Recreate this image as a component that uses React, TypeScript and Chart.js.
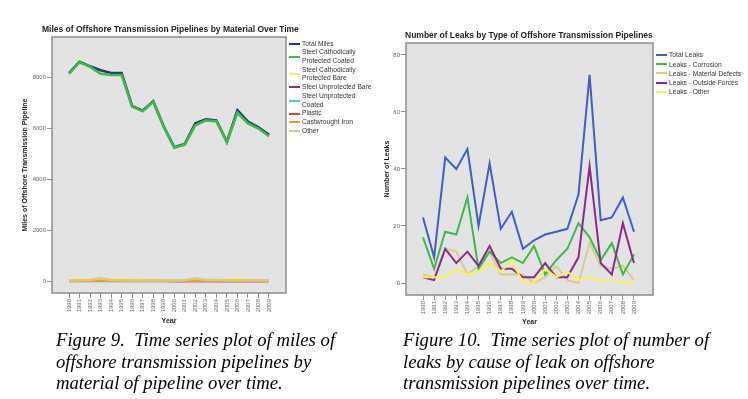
import React, { useEffect, useRef } from "react";
import { Chart, registerables } from "chart.js";

Chart.register(...registerables);

// ---------- Data ----------
const years = [1990, 1991, 1992, 1993, 1994, 1995, 1996, 1997, 1998, 1999, 2000, 2001, 2002, 2003, 2004, 2005, 2006, 2007, 2008, 2009];

// Figure 9 – miles by material
const totalMiles = [8150, 8600, 8420, 8270, 8160, 8160, 6860, 6680, 7050, 6060, 5250, 5370, 6190, 6340, 6300, 5460, 6700, 6250, 6030, 5730];
const steelCPCoated = [8130, 8580, 8400, 8130, 8080, 8080, 6840, 6660, 7030, 6040, 5230, 5350, 6110, 6300, 6270, 5440, 6600, 6180, 5980, 5680];
const steelCPBare = [40, 50, 60, 70, 80, 70, 60, 50, 40, 40, 30, 30, 40, 50, 50, 60, 80, 60, 50, 40];
const steelUnprotBare = [10, 12, 10, 10, 8, 10, 9, 10, 10, 8, 6, 5, 6, 5, 5, 6, 5, 5, 4, 5];
const steelUnprotCoated = [5, 6, 5, 5, 4, 5, 5, 4, 5, 5, 4, 4, 5, 4, 4, 5, 4, 4, 4, 4];
const plastic = [30, 30, 20, 20, 12, 10, 10, 10, 12, 10, 10, 10, 12, 10, 10, 10, 10, 10, 10, 10];
const castIron = [0, 0, 0, 20, 0, 0, 0, 0, 10, 0, 0, 0, 20, 0, 0, 0, 0, 0, 0, 0];
const otherMiles = [20, 30, 40, 110, 40, 30, 20, 20, 30, 20, 20, 30, 110, 40, 40, 30, 30, 30, 30, 30];
const milesTicks = [0, 2000, 4000, 6000, 8000];

// Figure 10 – leaks by type
const totalLeaks = [23, 9, 44, 40, 47, 20, 42, 19, 25, 12, 15, 17, 18, 19, 31, 73, 22, 23, 30, 18];
const leaksCorrosion = [16, 5, 18, 17, 30, 5, 11, 7, 9, 7, 13, 3, 8, 12, 21, 16, 8, 14, 3, 10];
const leaksMaterial = [3, 2, 12, 11, 3, 6, 11, 3, 3, 3, 0, 2, 6, 1, 0, 14, 6, 5, 6, 1];
const leaksOutside = [2, 1, 12, 7, 11, 6, 13, 5, 5, 2, 2, 7, 2, 2, 9, 41, 7, 3, 21, 7];
const leaksOther = [2, 2, 2, 5, 3, 4, 7, 4, 8, 0, 0, 5, 2, 4, 1, 2, 1, 1, 0, 0];
const leaksTicks = [0, 20, 40, 60, 80];

const fig9Title = "Miles of Offshore Transmission Pipelines by Material Over Time";
const fig10Title = "Number of Leaks by Type of Offshore Transmission Pipelines";

type Series = { label: string[]; data: number[]; color: string; order: number };

const milesSeries: Series[] = [
  { label: ["Total Miles"], data: totalMiles, color: "#1f3a7a", order: 2 },
  { label: ["Steel Cathodically", "Protected Coated"], data: steelCPCoated, color: "#3fba4a", order: 1 },
  { label: ["Steel Cathodically", "Protected Bare"], data: steelCPBare, color: "#f4f060", order: 5 },
  { label: ["Steel Unprotected Bare"], data: steelUnprotBare, color: "#8a2b8c", order: 7 },
  { label: ["Steel Unprotected", "Coated"], data: steelUnprotCoated, color: "#4ec9d2", order: 8 },
  { label: ["Plastic"], data: plastic, color: "#e8413c", order: 6 },
  { label: ["Castwrought Iron"], data: castIron, color: "#f59a23", order: 4 },
  { label: ["Other"], data: otherMiles, color: "#d6c98e", order: 3 },
];

const leakSeries: Series[] = [
  { label: ["Total Leaks"], data: totalLeaks, color: "#3f5fc4", order: 3 },
  { label: ["Leaks - Corrosion"], data: leaksCorrosion, color: "#40b94a", order: 2 },
  { label: ["Leaks - Material Defects"], data: leaksMaterial, color: "#d8cc92", order: 4 },
  { label: ["Leaks - Outside Forces"], data: leaksOutside, color: "#8a2b8c", order: 1 },
  { label: ["Leaks - Other"], data: leaksOther, color: "#f6f25a", order: 0 },
];

const SANS = "'Liberation Sans', Arial, sans-serif";

const plotFrame = {
  id: "plotFrame",
  beforeDraw(chart: any) {
    const { ctx, chartArea: a } = chart;
    ctx.save();
    ctx.fillStyle = "#e3e3e3";
    ctx.fillRect(a.left, a.top, a.right - a.left, a.bottom - a.top);
    ctx.strokeStyle = "#8c8c8c";
    ctx.lineWidth = 1.5;
    ctx.strokeRect(a.left, a.top, a.right - a.left, a.bottom - a.top);
    ctx.restore();
  },
};

type Cfg = {
  series: Series[];
  lineWidth: number;
  xMin: number;
  xMax: number;
  yMin: number;
  yMax: number;
  yTicks: number[];
  yTitle: string;
  yAxisWidth: number;
  yTitlePad: number;
  xAxisHeight: number;
  xTitlePad: number;
  padding: { left: number; top: number; right: number; bottom: number };
  tickLen: number;
  titleSize: number;
};

function buildConfig(c: Cfg): any {
  return {
    type: "line",
    data: {
      datasets: c.series.map((s) => ({
        label: s.label.join(" "),
        data: years.map((y, i) => ({ x: y, y: s.data[i] })),
        borderColor: s.color,
        backgroundColor: s.color,
        borderWidth: c.lineWidth,
        pointRadius: 0,
        tension: 0,
        fill: false,
        order: s.order,
      })),
    },
    options: {
      responsive: false,
      animation: false,
      devicePixelRatio: 1,
      layout: { padding: c.padding },
      plugins: { legend: { display: false }, title: { display: false }, tooltip: { enabled: false } },
      scales: {
        x: {
          type: "linear",
          min: c.xMin,
          max: c.xMax,
          afterBuildTicks: (s: any) => {
            s.ticks = years.map((v) => ({ value: v }));
          },
          afterFit: (s: any) => {
            s.height = c.xAxisHeight;
          },
          ticks: {
            autoSkip: false,
            minRotation: 90,
            maxRotation: 90,
            padding: 1,
            color: "#666",
            font: { family: SANS, size: 6 },
            callback: (v: any) => String(v),
          },
          grid: { display: true, drawOnChartArea: false, drawTicks: true, tickLength: c.tickLen, color: "#8c8c8c" },
          border: { display: false },
          title: {
            display: true,
            text: "Year",
            color: "#222",
            font: { family: SANS, size: c.titleSize, weight: "bold" },
            padding: { top: 0, bottom: c.xTitlePad },
          },
        },
        y: {
          type: "linear",
          min: c.yMin,
          max: c.yMax,
          afterBuildTicks: (s: any) => {
            s.ticks = c.yTicks.map((v) => ({ value: v }));
          },
          afterFit: (s: any) => {
            s.width = c.yAxisWidth;
          },
          ticks: {
            padding: 1,
            color: "#666",
            font: { family: SANS, size: 6 },
            callback: (v: any) => String(v),
          },
          grid: { display: true, drawOnChartArea: false, drawTicks: true, tickLength: c.tickLen, color: "#8c8c8c" },
          border: { display: false },
          title: {
            display: true,
            text: c.yTitle,
            color: "#222",
            font: { family: SANS, size: c.titleSize, weight: "bold" },
            padding: { top: c.yTitlePad, bottom: 0 },
          },
        },
      },
    },
    plugins: [plotFrame],
  };
}

function LineChart(props: { cfg: Cfg; left: number; top: number; width: number; height: number }) {
  const ref = useRef<HTMLCanvasElement>(null);
  useEffect(() => {
    if (!ref.current) return;
    const chart = new Chart(ref.current, buildConfig(props.cfg));
    return () => chart.destroy();
  }, []);
  return (
    <canvas
      ref={ref}
      width={props.width}
      height={props.height}
      style={{ position: "absolute", left: props.left, top: props.top, width: props.width, height: props.height }}
    />
  );
}

function Legend(props: { series: Series[]; left: number; top: number; lineH: number; fontSize: number }) {
  return (
    <div style={{ position: "absolute", left: props.left, top: props.top, fontFamily: SANS, fontSize: props.fontSize, color: "#333", lineHeight: props.lineH + "px" }}>
      {props.series.map((s, i) => (
        <div key={i} style={{ display: "flex", alignItems: "center", whiteSpace: "nowrap" }}>
          <div style={{ width: 11, height: 2, background: s.color, marginRight: 2, flex: "none" }} />
          <div>
            {s.label.map((l, j) => (
              <div key={j}>{l}</div>
            ))}
          </div>
        </div>
      ))}
    </div>
  );
}

const captionStyle: React.CSSProperties = {
  position: "absolute",
  fontFamily: "'Liberation Serif', 'Times New Roman', serif",
  fontStyle: "italic",
  fontSize: 18.7,
  lineHeight: "21.7px",
  color: "#000",
  whiteSpace: "nowrap",
};

const titleStyle: React.CSSProperties = {
  position: "absolute",
  fontFamily: SANS,
  fontWeight: "bold",
  fontSize: 8.5,
  lineHeight: "10px",
  color: "#222",
  whiteSpace: "nowrap",
};

export default function App() {
  const leftCfg: Cfg = {
    series: milesSeries,
    lineWidth: 2.6,
    xMin: 1988.385,
    xMax: 2010.615,
    yMin: -470,
    yMax: 9570,
    yTicks: milesTicks,
    yTitle: "Miles of Offshore Transmission Pipeline",
    yAxisWidth: 52,
    yTitlePad: 21,
    xAxisHeight: 37,
    xTitlePad: 5,
    padding: { left: 0, top: 37, right: 14, bottom: 0 },
    tickLen: 5,
    titleSize: 7,
  };
  const rightCfg: Cfg = {
    series: leakSeries,
    lineWidth: 2,
    xMin: 1988.469,
    xMax: 2010.711,
    yMin: -4.21,
    yMax: 84.2,
    yTicks: leaksTicks,
    yTitle: "Number of Leaks",
    yAxisWidth: 26,
    yTitlePad: 3,
    xAxisHeight: 36,
    xTitlePad: 5,
    padding: { left: 0, top: 43, right: 7, bottom: 0 },
    tickLen: 5,
    titleSize: 7,
  };
  return (
    <div style={{ position: "absolute", left: 0, top: 0, width: 748, height: 399, background: "#fff", overflow: "hidden" }}>
      <LineChart cfg={leftCfg} left={0} top={0} width={300} height={330} />
      <LineChart cfg={rightCfg} left={380} top={0} width={280} height={331} />
      <div style={{ ...titleStyle, left: 42, top: 24.3 }}>{fig9Title}</div>
      <div style={{ ...titleStyle, left: 405, top: 29.7 }}>{fig10Title}</div>
      <Legend series={milesSeries} left={289} top={39.6} lineH={8.7} fontSize={6.7} />
      <Legend series={leakSeries} left={656} top={50.4} lineH={9.2} fontSize={6.7} />
      <div style={{ ...captionStyle, left: 56, top: 329 }}>
        <div>Figure 9.&nbsp; Time series plot of miles of</div>
        <div>offshore transmission pipelines by</div>
        <div>material of pipeline over time.</div>
      </div>
      <div style={{ ...captionStyle, left: 403, top: 329 }}>
        <div>Figure 10.&nbsp; Time series plot of number of</div>
        <div>leaks by cause of leak on offshore</div>
        <div>transmission pipelines over time.</div>
      </div>
    </div>
  );
}
